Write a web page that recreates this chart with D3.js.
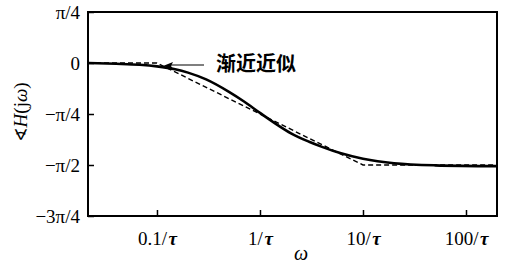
<!DOCTYPE html>
<html><head><meta charset="utf-8">
<script src="https://cdn.jsdelivr.net/npm/d3@7"></script>
<style>
body{margin:0;background:#fff;}
svg{display:block;}
</style></head>
<body>
<svg id="c" width="505" height="264"></svg>
<script>
// ω in units of 1/τ, phase in degrees
const omega = [0.0214, 0.04, 0.068, 0.1, 0.15, 0.2, 0.3, 0.5, 0.7, 1, 1.5, 2, 3, 4, 6, 10, 20, 50, 200];
const exactPhase = [0, -0.7, -1.6, -3, -5.5, -8.5, -14.5, -25.5, -34, -44, -55, -62, -69.5, -74, -79.5, -84.5, -88.5, -90.3, -91];
const asymOmega = [0.0214, 0.1, 10, 200];
const asymPhase = [0, 0, -90, -90];
const xTickValues = [0.1, 1, 10, 100];
const xTickLabels = ["0.1/", "1/", "10/", "100/"];
const yTickValues = [45, 0, -45, -90, -135];
const yTickLabels = ["π/4", "0", "−π/4", "−π/2", "−3π/4"];
const annotation = "渐近近似";

const SERIF = "'Liberation Serif','Times New Roman',serif";
const svg = d3.select("#c");
const L = 88, R = 497, T = 12, B = 216;
const x = d3.scaleLog().domain([0.0214, 200]).range([L, R]);
const y = d3.scaleLinear().domain([-135, 45]).range([B, T]);

// frame
svg.append("rect").attr("x", L).attr("y", T).attr("width", R - L).attr("height", B - T)
  .attr("fill", "none").attr("stroke", "#000").attr("stroke-width", 2);

// x axis ticks (inward)
const xAxis = d3.axisTop(x).tickValues(xTickValues).tickSize(6).tickFormat("");
const gx = svg.append("g").attr("transform", `translate(0,${B})`).call(xAxis)
  .attr("font-family", SERIF);
gx.select(".domain").remove();
gx.selectAll("line").attr("stroke", "#000").attr("stroke-width", 1.5);
gx.selectAll(".tick").append("text")
  .attr("y", 29).attr("text-anchor", "middle").attr("font-size", 19)
  .attr("font-family", SERIF).attr("fill", "#000")
  .each(function(d, i) {
    const t = d3.select(this);
    t.append("tspan").text(xTickLabels[i]);
    t.append("tspan").attr("dx", 1.5).attr("font-style", "italic").attr("font-weight", "bold").text("τ");
  });

// y axis ticks (inward)
const yAxis = d3.axisRight(y).tickValues(yTickValues).tickSize(6).tickFormat("");
const gy = svg.append("g").attr("transform", `translate(${L},0)`).call(yAxis)
  .attr("font-family", SERIF);
gy.select(".domain").remove();
gy.selectAll("line").attr("stroke", "#000").attr("stroke-width", 1.5);
gy.selectAll(".tick").append("text")
  .attr("x", -8).attr("dy", "0.35em").attr("text-anchor", "end").attr("font-size", 19)
  .attr("font-family", SERIF).attr("fill", "#000")
  .text((d, i) => yTickLabels[i]);

// axis titles
svg.append("text").attr("x", 301).attr("y", 260).attr("text-anchor", "middle")
  .attr("font-family", SERIF).attr("font-size", 20).attr("font-style", "italic").text("ω");
const yt = svg.append("text").attr("transform", "translate(27,112) rotate(-90)")
  .attr("text-anchor", "middle").attr("font-size", 19).attr("font-family", SERIF);
yt.append("tspan").attr("font-family", "DejaVu Sans").attr("font-size", 17).text("∢");
yt.append("tspan").attr("font-style", "italic").text("H");
yt.append("tspan").text("(j");
yt.append("tspan").attr("font-style", "italic").text("ω");
yt.append("tspan").text(")");

// curves
svg.append("path").datum(asymOmega.map((w, i) => [w, asymPhase[i]]))
  .attr("d", d3.line().x(d => x(d[0])).y(d => y(d[1])))
  .attr("fill", "none").attr("stroke", "#000").attr("stroke-width", 1.4).attr("stroke-dasharray", "5,3");
const line = d3.line().x(d => x(d[0])).y(d => y(d[1])).curve(d3.curveMonotoneX);
svg.append("path").datum(omega.map((w, i) => [w, exactPhase[i]]))
  .attr("d", line).attr("fill", "none").attr("stroke", "#000").attr("stroke-width", 2.6);

// annotation
const ax0 = 204, ay = 65, ax1 = 163;
svg.append("line").attr("x1", ax0).attr("y1", ay).attr("x2", ax1 + 6).attr("y2", ay)
  .attr("stroke", "#000").attr("stroke-width", 1.2);
svg.append("path").attr("d", `M${ax1},${ay + 1}L${ax1 + 10},${ay - 3}L${ax1 + 8},${ay + 1}L${ax1 + 10},${ay + 4}Z`)
  .attr("fill", "#000");
svg.append("text").attr("x", 216).attr("y", 71).attr("font-size", 20).attr("font-weight", "bold")
  .attr("font-family", "'Noto Sans CJK SC'").attr("fill", "#000").text(annotation);
</script>
</body></html>
